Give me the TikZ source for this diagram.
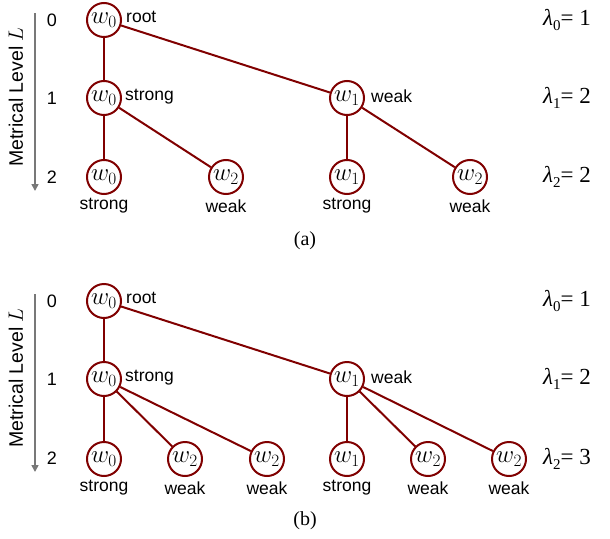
\documentclass[tikz,border=0pt]{standalone}
\usepackage{fontspec}
\setmainfont{Liberation Serif}
\newfontfamily\arialf{Liberation Sans}
\usetikzlibrary{arrows.meta}
\definecolor{treered}{RGB}{128,0,0}
\definecolor{arrgray}{RGB}{120,120,120}
\tikzset{
  wnode/.style={circle,draw=treered,line width=2pt,fill=white,minimum size=34pt,inner sep=0pt,font=\fontsize{23}{24}\selectfont},
  edge/.style={draw=treered,line width=2pt},
  lab/.style={font=\arialf\fontsize{17.5}{18}\selectfont,inner sep=0pt},
  lev/.style={font=\arialf\fontsize{18}{18}\selectfont,inner sep=0pt},
  lam/.style={font=\fontsize{23}{24}\selectfont,inner sep=0pt,anchor=west},
  captxt/.style={font=\fontsize{20}{21}\selectfont,inner sep=0pt}
}
\newcommand{\lamlab}[2]{\textit{λ}\raisebox{-0.4ex}{\fontsize{15}{15}\selectfont #1}= #2}
\begin{document}
\begin{tikzpicture}[x=1pt,y=-1pt]
\useasboundingbox (0,0) rectangle (610,538);
% ---------- (a) ----------
\begin{scope}
\node[lev] (la0) at (52,20) {0};
\node[lev] (la1) at (52,98) {1};
\node[lev] (la2) at (52,177) {2};
\coordinate (aa1) at (35,13);
\coordinate (aa2) at (35,191);
\draw[arrgray,line width=1.6pt,-{Triangle[length=7pt,width=7pt]}] (aa1) -- (aa2);
\node[rotate=90,font=\arialf\fontsize{19.5}{20}\selectfont] (ta) at (16,97) {Metrical Level $L$};
\node[wnode] (a0) at (104,20) {$w_0$};
\node[wnode] (a1) at (104,98) {$w_0$};
\node[wnode] (a2) at (347,98) {$w_1$};
\node[wnode] (a3) at (104,177) {$w_0$};
\node[wnode] (a4) at (226,177) {$w_2$};
\node[wnode] (a5) at (347,177) {$w_1$};
\node[wnode] (a6) at (470,177) {$w_2$};
\draw[edge] (a0) -- (a1);
\draw[edge] (a0) -- (a2);
\draw[edge] (a1) -- (a3);
\draw[edge] (a1) -- (a4);
\draw[edge] (a2) -- (a5);
\draw[edge] (a2) -- (a6);
\node[lab,anchor=west] (ra) at (126,17) {root};
\node[lab,anchor=west] (sa) at (125,97) {strong};
\node[lab,anchor=west] (wa) at (371,96) {weak};
\node[lab] (sa3) at (104,206) {strong};
\node[lab] (wa4) at (226,206) {weak};
\node[lab] (sa5) at (347,206) {strong};
\node[lab] (wa6) at (470,206) {weak};
\node[lam] (lamA0) at (543,20) {\lamlab{0}{1}};
\node[lam] (lamA1) at (543,98) {\lamlab{1}{2}};
\node[lam] (lamA2) at (543,177) {\lamlab{2}{2}};
\node[captxt] (capa) at (305,241) {(a)};
\end{scope}
% ---------- (b) ----------
\begin{scope}[yshift=-281pt]
\node[lev] (lb0) at (52,20) {0};
\node[lev] (lb1) at (52,98) {1};
\node[lev] (lb2) at (52,177) {2};
\coordinate (ab1) at (35,13);
\coordinate (ab2) at (35,191);
\draw[arrgray,line width=1.6pt,-{Triangle[length=7pt,width=7pt]}] (ab1) -- (ab2);
\node[rotate=90,font=\arialf\fontsize{19.5}{20}\selectfont] (tb) at (16,97) {Metrical Level $L$};
\node[wnode] (b0) at (104,20) {$w_0$};
\node[wnode] (b1) at (104,98) {$w_0$};
\node[wnode] (b2) at (347,98) {$w_1$};
\node[wnode] (b3) at (104,178) {$w_0$};
\node[wnode] (b4) at (185,178) {$w_2$};
\node[wnode] (b5) at (267,178) {$w_2$};
\node[wnode] (b6) at (347,178) {$w_1$};
\node[wnode] (b7) at (428,178) {$w_2$};
\node[wnode] (b8) at (509,178) {$w_2$};
\draw[edge] (b0) -- (b1);
\draw[edge] (b0) -- (b2);
\draw[edge] (b1) -- (b3);
\draw[edge] (b1) -- (b4);
\draw[edge] (b1) -- (b5);
\draw[edge] (b2) -- (b6);
\draw[edge] (b2) -- (b7);
\draw[edge] (b2) -- (b8);
\node[lab,anchor=west] (rb) at (126,17) {root};
\node[lab,anchor=west] (sb) at (125,97) {strong};
\node[lab,anchor=west] (wb) at (371,96) {weak};
\node[lab] (sb3) at (104,207) {strong};
\node[lab] (wb4) at (185,207) {weak};
\node[lab] (wb5) at (267,207) {weak};
\node[lab] (sb6) at (347,207) {strong};
\node[lab] (wb7) at (428,207) {weak};
\node[lab] (wb8) at (509,207) {weak};
\node[lam] (lamB0) at (543,20) {\lamlab{0}{1}};
\node[lam] (lamB1) at (543,98) {\lamlab{1}{2}};
\node[lam] (lamB2) at (543,178) {\lamlab{2}{3}};
\node[captxt] (capb) at (305,240) {(b)};
\end{scope}
\end{tikzpicture}
\end{document}
